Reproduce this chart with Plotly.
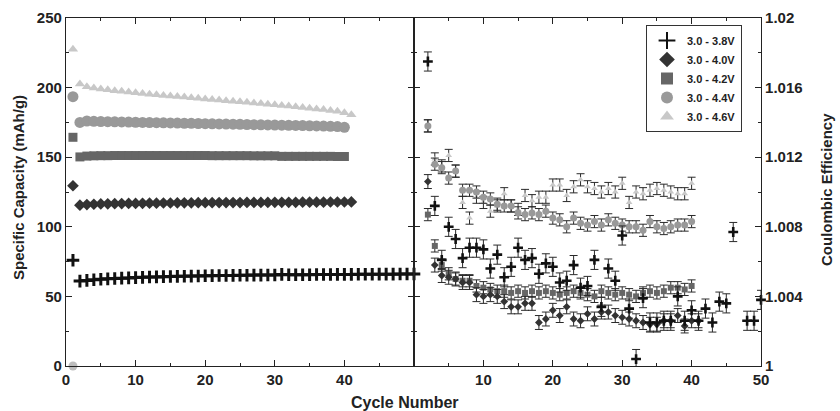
import plotly.graph_objects as go

# ---------------- data ----------------
series_names = ["3.0 - 3.8V", "3.0 - 4.0V", "3.0 - 4.2V", "3.0 - 4.4V", "3.0 - 4.6V"]

# Specific capacity (mAh/g), starting at cycle 1
cap_38 = [76, 61, 61.5, 62, 62.3, 62.6, 62.9, 63.1, 63.3, 63.5, 63.7, 63.9, 64.0, 64.2, 64.3,
          64.4, 64.5, 64.6, 64.7, 64.8, 64.9, 65.0, 65.0, 65.1, 65.2, 65.2, 65.3, 65.3, 65.4,
          65.4, 65.8, 65.5, 65.5, 65.6, 65.6, 65.7, 65.7, 65.7, 65.8, 65.8, 65.8, 65.9, 65.9,
          65.9, 66.0, 66.0, 66.0, 66.1, 66.1, 66.1]
cap_40 = [129.5, 115.5, 116, 116.2, 116.4, 116.5, 116.6, 116.7, 116.8, 116.8, 116.9, 117, 117,
          117.1, 117.1, 117.2, 117.2, 117.2, 117.3, 117.3, 117.3, 117.4, 117.4, 117.4, 117.4,
          117.5, 117.5, 117.5, 117.5, 117.6, 117.6, 117.6, 117.6, 117.7, 117.7, 117.7, 117.7,
          117.8, 117.8, 117.8, 117.9]
cap_42 = [164.3, 150.2, 150.8, 151, 151.1, 151.1, 151.2, 151.2, 151.2, 151.2, 151.2, 151.2,
          151.2, 151.2, 151.2, 151.2, 151.2, 151.2, 151.2, 151.2, 151.1, 151.1, 151.1, 151.1,
          151.1, 151.1, 151.0, 151.0, 151.0, 151.0, 150.6, 150.6, 150.6, 150.6, 150.6, 150.6,
          150.6, 150.6, 150.5, 150.5]
cap_44 = [193.5, 175, 176, 175.8, 175.6, 175.5, 175.4, 175.3, 175.2, 175.1, 175.0, 174.9,
          174.8, 174.7, 174.6, 174.5, 174.4, 174.3, 174.2, 174.1, 174.0, 173.9, 173.8, 173.7,
          173.6, 173.5, 173.4, 173.3, 173.2, 173.1, 173.0, 172.9, 172.8, 172.7, 172.6, 172.5,
          172.4, 172.2, 172.0, 171.5]
cap_46 = [227.5, 202.5, 200.7, 199.8, 199, 198.4, 197.8, 197.3, 196.8, 196.3, 195.8, 195.3,
          194.8, 194.4, 194, 193.6, 193.2, 192.7, 192.3, 191.9, 191.5, 191.1, 190.6, 190.2,
          189.8, 189.4, 188.9, 188.5, 188, 187.6, 187.2, 186.7, 186.2, 185.7, 185.2, 184.7,
          184.2, 183.6, 183.0, 182, 180.5]
stray_cycle = [1]
stray_cap = [0]

# Coulombic efficiency
ce_38_cycles = list(range(2, 47)) + [48, 49, 50]
ce_38 = [1.0175, 1.0092, 1.0061, 1.0080, 1.0073, 1.0062, 1.0068, 1.0068, 1.0067, 1.0056,
         1.0064, 1.0051, 1.0057, 1.0068, 1.0061, 1.0062, 1.0053, 1.0059, 1.0057, 1.0048,
         1.0049, 1.0058, 1.0045, 1.0046, 1.0061, 1.0034, 1.0056, 1.0049, 1.0075, 1.0033,
         1.0004, 1.0039, 1.0025, 1.0025, 1.0026, 1.0026, 1.0040, 1.0026, 1.0032, 1.0026,
         1.0033, 1.0025, 1.0037, 1.0036, 1.0077, 1.0026, 1.0026, 1.0038]
ce_40 = [1.0106, 1.0058, 1.0052, 1.0051, 1.0050, 1.0048, 1.0048, 1.0041, 1.0040, 1.0041,
         1.0040, 1.0037, 1.0034, 1.0034, 1.0036, 1.0036, 1.0025, 1.0027, 1.0032, 1.0029,
         1.0034, 1.0027, 1.0026, 1.0030, 1.0027, 1.0031, 1.0031, 1.0029, 1.0028, 1.0027,
         1.0026, 1.0025, 1.0024, 1.0024, 1.0026, 1.0026, 1.0029, 1.0023, 1.0026, 1.0026]
ce_42 = [1.0087, 1.0069, 1.0058, 1.0053, 1.0050, 1.0049, 1.0049, 1.0046, 1.0045, 1.0044,
         1.0043, 1.0043, 1.0042, 1.0043, 1.0042, 1.0043, 1.0042, 1.0043, 1.0042, 1.0041,
         1.0042, 1.0043, 1.0042, 1.0041, 1.0040, 1.0043, 1.0042, 1.0041, 1.0042, 1.0041,
         1.0040, 1.0042, 1.0043, 1.0042, 1.0043, 1.0045, 1.0045, 1.0044, 1.0046]
ce_44 = [1.0138, 1.0116, 1.0114, 1.0108, 1.0112, 1.0101, 1.0101, 1.0100, 1.0097, 1.0096,
         1.0093, 1.0092, 1.0092, 1.0088, 1.0087, 1.0088, 1.0087, 1.0089, 1.0085, 1.0084,
         1.0080, 1.0085, 1.0082, 1.0081, 1.0083, 1.0081, 1.0084, 1.0082, 1.0081, 1.0080,
         1.0080, 1.0078, 1.0083, 1.0080, 1.0079, 1.0080, 1.0081, 1.0081, 1.0083]
ce_46 = [1.0138, 1.0119, 1.0115, 1.0121, 1.0112, 1.0094, 1.0085, 1.0097, 1.0094, 1.0089,
         1.0092, 1.0099, 1.0092, 1.0090, 1.0098, 1.0095, 1.0097, 1.0097, 1.0104, 1.0104,
         1.0098, 1.0103, 1.0107, 1.0103, 1.0102, 1.0100, 1.0102, 1.0100, 1.0105, 1.0094,
         1.0100, 1.0099, 1.0101, 1.0102, 1.0101, 1.0100, 1.0099, 1.0099, 1.0105]
ce_err = [0.00055, 0.0004, 0.00035, 0.00035, 0.00035]

cap_tick_vals = [0, 50, 100, 150, 200, 250]
ce_tick_vals = [1.0, 1.004, 1.008, 1.012, 1.016, 1.02]
ce_tick_text = ["1", "1.004", "1.008", "1.012", "1.016", "1.02"]
left_x_ticks = [0, 10, 20, 30, 40]
right_x_ticks = [10, 20, 30, 40, 50]

# ---------------- styles ----------------
colors = ["#111111", "#333333", "#666666", "#999999", "#c8c8c8"]
symbols = ["cross-thin", "diamond", "square", "circle", "triangle-up"]
cap_sizes = [9, 9, 9, 11, 9]
ce_sizes = [7, 6, 6, 7, 6]
FONT = "Liberation Sans, Arial, sans-serif"

cap_data = [cap_38, cap_40, cap_42, cap_44, cap_46]
ce_data = [(ce_38_cycles, ce_38),
           (list(range(2, 2 + len(ce_40))), ce_40),
           (list(range(2, 2 + len(ce_42))), ce_42),
           (list(range(2, 2 + len(ce_44))), ce_44),
           (list(range(2, 2 + len(ce_46))), ce_46)]


def marker_style(i, size, lw):
    if symbols[i] == "cross-thin":
        return dict(symbol="cross-thin", size=size, color=colors[i],
                    line=dict(width=lw, color=colors[i]))
    return dict(symbol=symbols[i], size=size, color=colors[i], line=dict(width=0))


fig = go.Figure()

# CE traces first (drawn underneath), lighter first so darker sit on top
for i in [4, 3, 2, 1, 0]:
    xs, ys = ce_data[i]
    fig.add_trace(go.Scatter(
        x=xs, y=ys, mode="markers", xaxis="x2", yaxis="y2", showlegend=False,
        marker=marker_style(i, ce_sizes[i], 2.6),
        error_y=dict(type="constant", value=ce_err[i], color="#2a2a2a", thickness=1, width=4),
        cliponaxis=False,
    ))

for i in range(5):
    ys = cap_data[i]
    fig.add_trace(go.Scatter(
        x=list(range(1, len(ys) + 1)), y=ys, mode="markers", name=series_names[i],
        xaxis="x", yaxis="y",
        marker=marker_style(i, cap_sizes[i], 3),
        cliponaxis=False,
    ))

fig.add_trace(go.Scatter(
    x=stray_cycle, y=stray_cap, mode="markers", showlegend=False, xaxis="x", yaxis="y",
    marker=dict(symbol="circle", size=9, color="#bdbdbd"), cliponaxis=False,
))

split = 348 / 695
axis_common = dict(showline=True, linecolor="#222", linewidth=1.2, mirror="ticks",
                   ticks="inside", ticklen=6, tickcolor="#222", tickwidth=1.2,
                   showgrid=False, zeroline=False, automargin=False,
                   tickfont=dict(family=FONT, size=15, color="#222", weight="bold"))

minor_x = dict(tickmode="linear", tick0=0, dtick=5, ticks="inside", ticklen=3, tickcolor="#222")

fig.update_layout(
    width=840, height=411,
    margin=dict(l=66, r=79, t=18, b=45),
    paper_bgcolor="white", plot_bgcolor="white",
    font=dict(family=FONT, color="#222"),
    xaxis=dict(domain=[0, split], range=[0, 50], tickmode="array", tickvals=left_x_ticks,
               anchor="y", minor=minor_x, **axis_common),
    xaxis2=dict(domain=[split, 1], range=[0, 50], tickmode="array", tickvals=right_x_ticks,
                anchor="y2", minor=minor_x, **axis_common),
    yaxis=dict(domain=[0, 1], range=[0, 250], tickmode="array", tickvals=cap_tick_vals,
               anchor="x",
               minor=dict(tickmode="linear", tick0=0, dtick=25, ticks="inside", ticklen=3,
                          tickcolor="#222"),
               **axis_common),
    yaxis2=dict(domain=[0, 1], range=[1.0, 1.02], tickmode="array", tickvals=ce_tick_vals,
                ticktext=ce_tick_text, anchor="x2", side="right",
                minor=dict(tickmode="linear", tick0=1.0, dtick=0.002, ticks="inside", ticklen=3,
                           tickcolor="#222"),
                **axis_common),
    legend=dict(x=(646 - 66) / 695, y=1 - (25 - 18) / 348, xanchor="left", yanchor="top",
                bordercolor="#333", borderwidth=1, bgcolor="white",
                font=dict(family=FONT, size=11, color="#222", weight="bold"),
                tracegroupgap=0, itemsizing="constant"),
    annotations=[
        dict(text="Cycle Number", xref="paper", yref="paper",
             x=(405 - 66) / 695, y=-(402 - 366) / 348, xanchor="center",
             yanchor="middle", showarrow=False,
             font=dict(family=FONT, size=16, color="#222", weight="bold")),
        dict(text="Specific Capacity (mAh/g)", xref="paper", yref="paper",
             x=-(66 - 18) / 695, y=(366 - 188) / 348, xanchor="center", yanchor="middle",
             textangle=-90, showarrow=False,
             font=dict(family=FONT, size=15, color="#222", weight="bold")),
        dict(text="Coulombic Efficiency", xref="paper", yref="paper",
             x=1 + (827 - 761) / 695, y=(366 - 190) / 348, xanchor="center", yanchor="middle",
             textangle=-90, showarrow=False,
             font=dict(family=FONT, size=15, color="#222", weight="bold")),
    ],
)

fig.write_html("out.html", config={"displayModeBar": False},
               post_script="document.body.style.margin='0';")
